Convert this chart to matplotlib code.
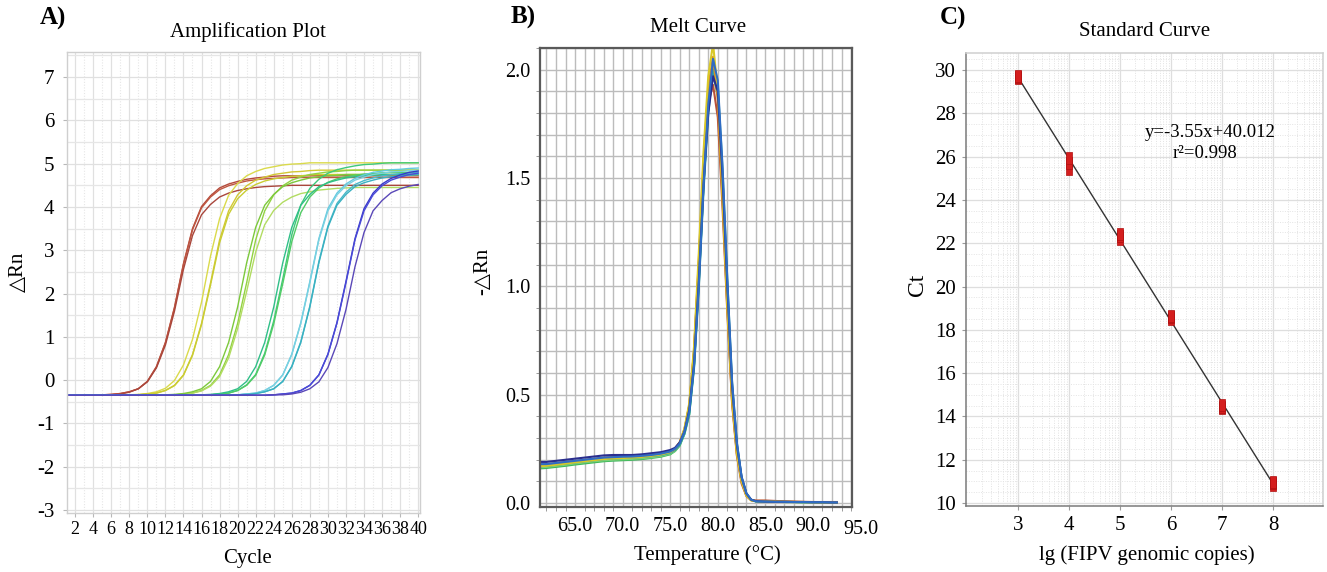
import matplotlib
matplotlib.use("Agg")
import matplotlib.pyplot as plt
import numpy as np
from matplotlib.ticker import MultipleLocator, FixedLocator
from matplotlib.transforms import blended_transform_factory

plt.rcParams['font.family'] = ['Liberation Serif', 'DejaVu Sans']
plt.rcParams['axes.unicode_minus'] = False

# ---------------- Panel A: amplification plot data ----------------
cycles = list(range(1, 41))

red_1 = [-0.35, -0.35, -0.35, -0.35, -0.34, -0.33, -0.31, -0.27, -0.20, -0.03,
         0.31, 0.87, 1.68, 2.69, 3.50, 4.01, 4.26, 4.44, 4.53, 4.59,
         4.64, 4.67, 4.69, 4.71, 4.72, 4.72, 4.72, 4.72, 4.72, 4.72,
         4.72, 4.72, 4.72, 4.72, 4.72, 4.72, 4.72, 4.72, 4.72, 4.72]
red_2 = [-0.35, -0.35, -0.35, -0.35, -0.34, -0.33, -0.31, -0.27, -0.20, -0.03,
         0.30, 0.86, 1.66, 2.67, 3.47, 3.98, 4.23, 4.40, 4.49, 4.55,
         4.60, 4.63, 4.65, 4.66, 4.67, 4.68, 4.68, 4.68, 4.68, 4.68,
         4.68, 4.68, 4.68, 4.68, 4.68, 4.68, 4.68, 4.68, 4.68, 4.68]
red_3 = [-0.35, -0.35, -0.35, -0.35, -0.35, -0.34, -0.32, -0.28, -0.20, -0.04,
         0.28, 0.81, 1.59, 2.56, 3.34, 3.82, 4.06, 4.23, 4.32, 4.38,
         4.42, 4.45, 4.47, 4.48, 4.49, 4.50, 4.50, 4.50, 4.50, 4.50,
         4.50, 4.50, 4.50, 4.50, 4.50, 4.50, 4.50, 4.50, 4.50, 4.50]
yellow_1 = [-0.35, -0.35, -0.35, -0.35, -0.35, -0.35, -0.35, -0.34, -0.33, -0.31,
            -0.27, -0.19, -0.01, 0.35, 0.94, 1.80, 2.87, 3.73, 4.27, 4.54,
            4.72, 4.82, 4.89, 4.93, 4.97, 4.99, 5.00, 5.02, 5.02, 5.02,
            5.02, 5.02, 5.02, 5.02, 5.02, 5.02, 5.02, 5.02, 5.02, 5.02]
yellow_2 = [-0.35, -0.35, -0.35, -0.35, -0.35, -0.35, -0.35, -0.35, -0.34, -0.32,
            -0.30, -0.24, -0.12, 0.12, 0.59, 1.31, 2.25, 3.24, 3.91, 4.28,
            4.49, 4.62, 4.69, 4.75, 4.78, 4.81, 4.82, 4.84, 4.85, 4.85,
            4.85, 4.85, 4.85, 4.85, 4.85, 4.85, 4.85, 4.85, 4.85, 4.85]
yellow_3 = [-0.35, -0.35, -0.35, -0.35, -0.35, -0.35, -0.35, -0.35, -0.34, -0.32,
            -0.30, -0.24, -0.13, 0.11, 0.57, 1.28, 2.20, 3.17, 3.83, 4.19,
            4.39, 4.52, 4.60, 4.65, 4.68, 4.71, 4.72, 4.74, 4.75, 4.75,
            4.75, 4.75, 4.75, 4.75, 4.75, 4.75, 4.75, 4.75, 4.75, 4.75]
ygreen_1 = [-0.35, -0.35, -0.35, -0.35, -0.35, -0.35, -0.35, -0.35, -0.35, -0.35,
            -0.35, -0.35, -0.34, -0.32, -0.30, -0.24, -0.12, 0.12, 0.59, 1.31,
            2.25, 3.24, 3.91, 4.28, 4.49, 4.62, 4.69, 4.75, 4.78, 4.81,
            4.82, 4.84, 4.85, 4.85, 4.85, 4.85, 4.85, 4.85, 4.85, 4.85]
ygreen_2 = [-0.35, -0.35, -0.35, -0.35, -0.35, -0.35, -0.35, -0.35, -0.35, -0.35,
            -0.35, -0.35, -0.34, -0.33, -0.30, -0.25, -0.14, 0.08, 0.51, 1.19,
            2.05, 2.96, 3.59, 3.92, 4.11, 4.23, 4.31, 4.35, 4.39, 4.41,
            4.43, 4.44, 4.45, 4.45, 4.45, 4.45, 4.45, 4.45, 4.45, 4.45]
ygreen_3 = [-0.35, -0.35, -0.35, -0.35, -0.35, -0.35, -0.35, -0.35, -0.35, -0.35,
            -0.35, -0.34, -0.33, -0.31, -0.27, -0.20, -0.03, 0.31, 0.87, 1.69,
            2.71, 3.53, 4.04, 4.29, 4.47, 4.56, 4.62, 4.67, 4.70, 4.72,
            4.73, 4.75, 4.75, 4.75, 4.75, 4.75, 4.75, 4.75, 4.75, 4.75]
green_1 = [-0.35, -0.35, -0.35, -0.35, -0.35, -0.35, -0.35, -0.35, -0.35, -0.35,
           -0.35, -0.35, -0.35, -0.35, -0.35, -0.35, -0.34, -0.32, -0.30, -0.24,
           -0.11, 0.13, 0.62, 1.37, 2.34, 3.36, 4.05, 4.43, 4.64, 4.78,
           4.86, 4.91, 4.95, 4.98, 4.99, 5.01, 5.02, 5.02, 5.02, 5.02]
green_2 = [-0.35, -0.35, -0.35, -0.35, -0.35, -0.35, -0.35, -0.35, -0.35, -0.35,
           -0.35, -0.35, -0.35, -0.35, -0.35, -0.35, -0.34, -0.32, -0.30, -0.24,
           -0.12, 0.11, 0.58, 1.30, 2.23, 3.20, 3.87, 4.23, 4.44, 4.57,
           4.65, 4.70, 4.73, 4.76, 4.77, 4.79, 4.80, 4.80, 4.80, 4.80]
green_3 = [-0.35, -0.35, -0.35, -0.35, -0.35, -0.35, -0.35, -0.35, -0.35, -0.35,
           -0.35, -0.35, -0.35, -0.35, -0.35, -0.34, -0.33, -0.31, -0.27, -0.20,
           -0.03, 0.31, 0.87, 1.69, 2.71, 3.53, 4.04, 4.29, 4.47, 4.56,
           4.62, 4.67, 4.70, 4.72, 4.73, 4.75, 4.75, 4.75, 4.75, 4.75]
cyan_1 = [-0.35, -0.35, -0.35, -0.35, -0.35, -0.35, -0.35, -0.35, -0.35, -0.35,
          -0.35, -0.35, -0.35, -0.35, -0.35, -0.35, -0.35, -0.35, -0.35, -0.34,
          -0.32, -0.30, -0.24, -0.12, 0.12, 0.60, 1.33, 2.28, 3.27, 3.96,
          4.32, 4.53, 4.66, 4.74, 4.80, 4.83, 4.86, 4.87, 4.89, 4.90]
cyan_2 = [-0.35, -0.35, -0.35, -0.35, -0.35, -0.35, -0.35, -0.35, -0.35, -0.35,
          -0.35, -0.35, -0.35, -0.35, -0.35, -0.35, -0.35, -0.35, -0.35, -0.34,
          -0.33, -0.31, -0.27, -0.20, -0.03, 0.32, 0.89, 1.71, 2.74, 3.56,
          4.08, 4.34, 4.52, 4.61, 4.67, 4.72, 4.75, 4.77, 4.78, 4.80]
cyan_3 = [-0.35, -0.35, -0.35, -0.35, -0.35, -0.35, -0.35, -0.35, -0.35, -0.35,
          -0.35, -0.35, -0.35, -0.35, -0.35, -0.35, -0.35, -0.35, -0.35, -0.34,
          -0.32, -0.30, -0.24, -0.12, 0.12, 0.59, 1.31, 2.25, 3.24, 3.91,
          4.28, 4.49, 4.62, 4.69, 4.75, 4.78, 4.81, 4.82, 4.84, 4.85]
cyan_4 = [-0.35, -0.35, -0.35, -0.35, -0.35, -0.35, -0.35, -0.35, -0.35, -0.35,
          -0.35, -0.35, -0.35, -0.35, -0.35, -0.35, -0.35, -0.35, -0.35, -0.34,
          -0.33, -0.31, -0.27, -0.20, -0.03, 0.31, 0.87, 1.69, 2.71, 3.53,
          4.04, 4.29, 4.47, 4.56, 4.62, 4.67, 4.70, 4.72, 4.73, 4.75]
blue_1 = [-0.35, -0.35, -0.35, -0.35, -0.35, -0.35, -0.35, -0.35, -0.35, -0.35,
          -0.35, -0.35, -0.35, -0.35, -0.35, -0.35, -0.35, -0.35, -0.35, -0.35,
          -0.35, -0.35, -0.35, -0.34, -0.32, -0.30, -0.24, -0.12, 0.12, 0.60,
          1.33, 2.28, 3.27, 3.96, 4.32, 4.53, 4.66, 4.74, 4.80, 4.83]
blue_2 = [-0.35, -0.35, -0.35, -0.35, -0.35, -0.35, -0.35, -0.35, -0.35, -0.35,
          -0.35, -0.35, -0.35, -0.35, -0.35, -0.35, -0.35, -0.35, -0.35, -0.35,
          -0.35, -0.35, -0.35, -0.34, -0.32, -0.30, -0.24, -0.12, 0.12, 0.59,
          1.31, 2.25, 3.24, 3.91, 4.28, 4.49, 4.62, 4.69, 4.75, 4.78]
blue_3 = [-0.35, -0.35, -0.35, -0.35, -0.35, -0.35, -0.35, -0.35, -0.35, -0.35,
          -0.35, -0.35, -0.35, -0.35, -0.35, -0.35, -0.35, -0.35, -0.35, -0.35,
          -0.35, -0.35, -0.35, -0.34, -0.34, -0.32, -0.28, -0.20, -0.04, 0.29,
          0.84, 1.63, 2.62, 3.41, 3.91, 4.15, 4.33, 4.42, 4.48, 4.52]

amp_curves = [red_1, red_2, red_3, yellow_1, yellow_2, yellow_3,
              ygreen_1, ygreen_2, ygreen_3, green_1, green_2, green_3,
              cyan_1, cyan_2, cyan_3, cyan_4, blue_1, blue_2, blue_3]
amp_colors = ["#b4493a", "#bf5640", "#a9463c", "#dada4c", "#d2c834", "#c9cd32",
              "#92d242", "#b2dc62", "#7cc93c", "#3fc979", "#52cc66", "#30bf88",
              "#62c9e0", "#48b9c9", "#7ad1e1", "#39b1c1", "#3838c8", "#4a4ad8", "#5a48b8"]
amp_xticks = list(range(2, 41, 2))
amp_yticks = list(range(-3, 8))

# ---------------- Panel B: melt curve data ----------------
temps = [61.3, 62, 63, 64, 65, 66, 67, 68, 69, 70, 71, 72, 73, 74, 75,
         75.5, 76, 76.5, 77, 77.5, 78, 78.5, 79, 79.5, 80, 80.5, 81, 81.5, 82, 82.5, 83, 83.5, 84,
         85, 86, 87, 88, 89, 90, 91, 92, 92.5]
melt_navy = [0.19, 0.19, 0.195, 0.20, 0.205, 0.21, 0.215, 0.22, 0.222, 0.222, 0.222, 0.225, 0.23, 0.235, 0.245,
             0.255, 0.28, 0.33, 0.43, 0.64, 1.02, 1.47, 1.80, 1.97, 1.90, 1.50, 1.00, 0.54, 0.27, 0.12, 0.045, 0.016, 0.009,
             0.007, 0.006, 0.006, 0.005, 0.005, 0.004, 0.004, 0.003, 0.003]
melt_blue = [0.18, 0.18, 0.185, 0.19, 0.195, 0.20, 0.205, 0.21, 0.212, 0.214, 0.215, 0.218, 0.222, 0.228, 0.238,
             0.25, 0.275, 0.33, 0.42, 0.63, 1.00, 1.46, 1.84, 2.05, 1.95, 1.55, 1.03, 0.56, 0.28, 0.12, 0.045, 0.016, 0.008,
             0.007, 0.006, 0.006, 0.005, 0.005, 0.004, 0.004, 0.003, 0.003]
melt_teal = [0.17, 0.172, 0.177, 0.182, 0.188, 0.193, 0.198, 0.203, 0.206, 0.208, 0.21, 0.213, 0.217, 0.222, 0.232,
             0.245, 0.27, 0.32, 0.41, 0.62, 0.99, 1.44, 1.80, 2.00, 1.93, 1.54, 1.03, 0.56, 0.28, 0.12, 0.045, 0.015, 0.008,
             0.007, 0.006, 0.005, 0.005, 0.004, 0.004, 0.003, 0.003, 0.003]
melt_green = [0.16, 0.162, 0.167, 0.172, 0.178, 0.183, 0.188, 0.193, 0.196, 0.198, 0.20, 0.203, 0.208, 0.214, 0.225,
              0.24, 0.265, 0.32, 0.41, 0.63, 1.01, 1.47, 1.83, 1.98, 1.88, 1.47, 0.97, 0.52, 0.26, 0.11, 0.04, 0.014, 0.008,
              0.007, 0.006, 0.005, 0.005, 0.004, 0.004, 0.003, 0.003, 0.003]
melt_lgreen = [0.165, 0.167, 0.172, 0.177, 0.183, 0.188, 0.193, 0.197, 0.20, 0.202, 0.204, 0.207, 0.211, 0.217, 0.228,
               0.24, 0.27, 0.325, 0.42, 0.64, 1.03, 1.50, 1.86, 2.02, 1.90, 1.48, 0.97, 0.52, 0.26, 0.11, 0.04, 0.014, 0.008,
               0.007, 0.006, 0.005, 0.005, 0.004, 0.004, 0.003, 0.003, 0.003]
melt_orange = [0.175, 0.177, 0.182, 0.187, 0.192, 0.197, 0.202, 0.207, 0.21, 0.212, 0.214, 0.217, 0.221, 0.227, 0.237,
               0.25, 0.28, 0.34, 0.45, 0.70, 1.12, 1.58, 1.92, 2.06, 1.86, 1.40, 0.90, 0.47, 0.23, 0.10, 0.035, 0.013, 0.010,
               0.010, 0.008, 0.007, 0.006, 0.005, 0.005, 0.004, 0.004, 0.004]
melt_yellow = [0.17, 0.172, 0.177, 0.182, 0.188, 0.193, 0.198, 0.203, 0.206, 0.208, 0.21, 0.213, 0.218, 0.224, 0.235,
               0.25, 0.28, 0.345, 0.46, 0.72, 1.15, 1.62, 1.97, 2.12, 1.90, 1.42, 0.91, 0.48, 0.23, 0.10, 0.035, 0.013, 0.009,
               0.008, 0.007, 0.006, 0.005, 0.005, 0.004, 0.004, 0.003, 0.003]
melt_red = [0.178, 0.18, 0.185, 0.19, 0.195, 0.20, 0.205, 0.21, 0.213, 0.215, 0.216, 0.219, 0.223, 0.229, 0.239,
            0.25, 0.28, 0.34, 0.45, 0.70, 1.10, 1.55, 1.85, 1.93, 1.78, 1.36, 0.88, 0.46, 0.22, 0.09, 0.033, 0.014, 0.012,
            0.012, 0.010, 0.008, 0.007, 0.006, 0.005, 0.005, 0.005, 0.005]
melt_curves = [melt_green, melt_lgreen, melt_teal, melt_red, melt_orange, melt_yellow, melt_navy, melt_blue]
melt_colors = ["#3cb85a", "#7cd07a", "#27a6a6", "#b8503a", "#e08a20", "#d8c828", "#2a2e8e", "#2f6cc4"]
melt_xticks = [65.0, 70.0, 75.0, 80.0, 85.0, 90.0, 95.0]
melt_yticks = [0.0, 0.5, 1.0, 1.5, 2.0]

# ---------------- Panel C: standard curve data ----------------
log_copies = [3, 3, 3, 4, 4, 4, 5, 5, 5, 6, 6, 6, 7, 7, 7, 8, 8, 8]
ct_values = [29.65, 29.70, 29.75, 25.45, 25.70, 25.95, 22.20, 22.32, 22.45,
             18.50, 18.58, 18.65, 14.40, 14.45, 14.52, 10.82, 10.90, 10.98]
std_xticks = [3, 4, 5, 6, 7, 8]
std_yticks = list(range(10, 31, 2))
equation_text = "y=-3.55x+40.012"
r2_text = "r\u00b2=0.998"

# ---------------- figure ----------------
W, H = 1327, 572
fig = plt.figure(figsize=(W / 100, H / 100), dpi=100)


def ax_px(l, t, r, b):
    return fig.add_axes([l / W, 1 - b / H, (r - l) / W, (b - t) / H])


def ftext(x, y, s, **kw):
    fig.text(x / W, 1 - y / H, s, ha='center', va='center', **kw)


# Panel A
axA = ax_px(67, 52, 420, 513)
for ys, c in zip(amp_curves, amp_colors):
    axA.plot(cycles, ys, color=c, lw=1.0)
axA.set_xlim(1.1, 40.2)
axA.set_ylim(-3.07, 7.58)
axA.set_xticks(amp_xticks)
axA.set_yticks(amp_yticks)
axA.xaxis.set_minor_locator(MultipleLocator(1))
axA.yaxis.set_minor_locator(MultipleLocator(0.5))
axA.xaxis.grid(True, which='major', color='#e0e0e0', lw=0.9)
axA.xaxis.grid(True, which='minor', color='#e6e6e6', lw=0.8, ls=(0, (1, 1.5)))
axA.yaxis.grid(True, which='major', color='#e0e0e0', lw=0.9)
axA.yaxis.grid(True, which='minor', color='#e6e6e6', lw=0.9)
axA.set_axisbelow(True)
for s in axA.spines.values():
    s.set_color('#cfcfcf')
    s.set_linewidth(1.0)
axA.tick_params(axis='x', labelsize=13, length=3, color='#b8b8b8', pad=3)
axA.tick_params(axis='y', labelsize=15, length=3, color='#b8b8b8', pad=6)
axA.tick_params(which='minor', length=0)

# Panel B
axB = ax_px(540, 48, 852, 507)
for ys, c in zip(melt_curves, melt_colors):
    axB.plot(temps, ys, color=c, lw=1.5)
axB.set_xlim(61.32, 94.1)
axB.set_ylim(-0.018, 2.10)
xlo, xhi = axB.get_xlim()
in_ticks = [t for t in melt_xticks if xlo <= t <= xhi]
axB.set_xticks(in_ticks)
axB.set_xticklabels(["%.1f" % t for t in in_ticks])
trB = blended_transform_factory(axB.transData, axB.transAxes)
for t in melt_xticks:
    if t > xhi:
        axB.text(t, -0.028, "%.1f" % t, transform=trB, ha='center', va='top',
                 fontsize=14.5, clip_on=False)
axB.set_yticks(melt_yticks)
axB.set_yticklabels(["%.1f" % t for t in melt_yticks])
axB.xaxis.set_minor_locator(MultipleLocator(1))
axB.yaxis.set_minor_locator(MultipleLocator(0.1))
axB.grid(True, which='both', color='#bcbcbc', lw=1.0)
axB.set_axisbelow(True)
for s in axB.spines.values():
    s.set_color('#5a5a5a')
    s.set_linewidth(1.6)
axB.tick_params(axis='both', labelsize=14.5, length=0, pad=7)
axB.tick_params(axis='x', which='minor', length=3, color='#8a8a8a')
axB.tick_params(axis='y', which='minor', length=3, color='#8a8a8a')

# Panel C
axC = ax_px(966, 53, 1323, 506)
axC.set_xlim(1.98, 8.98)
axC.set_ylim(9.86, 30.79)
coef = np.polyfit(log_copies, ct_values, 1)
xs_line = np.array([min(log_copies), max(log_copies)])
axC.plot(xs_line, np.polyval(coef, xs_line), color='#333333', lw=1.0, zorder=3)
rect_marker = [(-0.6, -1), (0.6, -1), (0.6, 1), (-0.6, 1), (-0.6, -1)]
axC.plot(log_copies, ct_values, ls='none', marker=rect_marker, ms=8,
         mfc='#d41e1e', mec='#b01010', mew=0.5, zorder=4)
axC.set_xticks(std_xticks)
axC.set_yticks(std_yticks)
minor_x = [i + np.log10(k) for i in range(2, 9) for k in range(2, 10)]
axC.xaxis.set_minor_locator(FixedLocator(minor_x))
axC.yaxis.set_minor_locator(MultipleLocator(0.5))
axC.xaxis.grid(True, which='major', color='#dedede', lw=0.9)
axC.xaxis.grid(True, which='minor', color='#e2e2e2', lw=0.7, ls=(0, (1, 1.5)))
axC.yaxis.set_major_locator(FixedLocator(std_yticks))
axC.yaxis.grid(True, which='major', color='#dedede', lw=0.9)
axC.yaxis.grid(True, which='minor', color='#e4e4e4', lw=0.7, ls=(0, (1, 1.5)))
axC.set_axisbelow(True)
for k, s in axC.spines.items():
    s.set_color('#7a7a7a' if k in ('left', 'bottom') else '#d0d0d0')
    s.set_linewidth(1.1)
axC.tick_params(axis='both', labelsize=15, length=3, color='#9a9a9a', pad=4)
axC.tick_params(which='minor', length=0)
ftext(1210, 132, equation_text, fontsize=13.5)
ftext(1205, 153, r2_text, fontsize=13.5)

# Titles, labels, panel letters
ftext(53, 18, "A)", fontsize=18, fontweight='bold')
ftext(523, 17, "B)", fontsize=18, fontweight='bold')
ftext(953, 18, "C)", fontsize=18, fontweight='bold')
ftext(248, 32, "Amplification Plot", fontsize=15)
ftext(698, 27, "Melt Curve", fontsize=15)
ftext(1145, 31, "Standard Curve", fontsize=15)
ftext(248, 558, "Cycle", fontsize=15)
ftext(707, 555, "Temperature (\u00b0C)", fontsize=15)
ftext(1147, 555, "lg (FIPV genomic copies)", fontsize=15)
ftext(18, 272, "\u25b3Rn", fontsize=15, rotation=90)
ftext(483, 271, "-\u25b3Rn", fontsize=15, rotation=90)
ftext(917, 285, "Ct", fontsize=17, rotation=90)

fig.savefig("out.png", dpi=100)
